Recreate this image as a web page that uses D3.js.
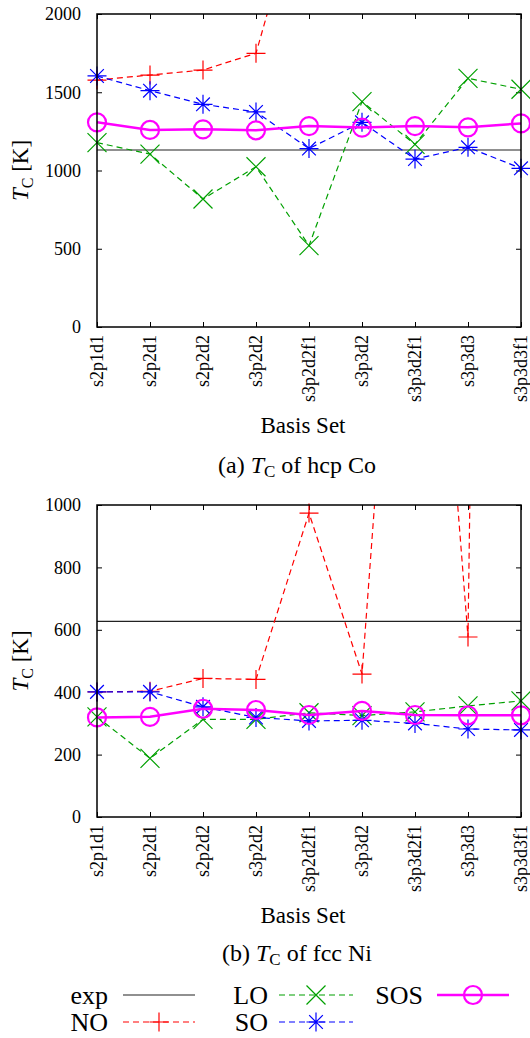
<!DOCTYPE html>
<html>
<head>
<meta charset="utf-8">
<script src="https://cdn.jsdelivr.net/npm/d3@7"></script>
<style>
  body { margin: 0; background: #fff; }
  svg text { font-family: "Liberation Serif", "DejaVu Serif", serif !important; fill: #000; }
</style>
</head>
<body>
<script>
  const basisSets = ["s2p1d1", "s2p2d1", "s2p2d2", "s3p2d2", "s3p2d2f1", "s3p3d2", "s3p3d2f1", "s3p3d3", "s3p3d3f1"]

  // hcp Co (null = far above the plotted range)
  const coExp = 1131
  const coNO = [1578, 1610, 1642, 1749, 2940, null, null, null, null]
  const coLO = [1178, 1105, 818, 1024, 520, 1440, 1167, 1589, 1519]
  const coSO = [1604, 1510, 1423, 1374, 1140, 1308, 1073, 1148, 1014]
  const coSOS = [1308, 1259, 1263, 1257, 1284, 1274, 1284, 1276, 1301]
  const coTicks = [0, 500, 1000, 1500, 2000]

  // fcc Ni
  const niExp = 627
  const niNO = [401, 403, 444, 441, 974, 458, 2750, 577, 13000]
  const niLO = [321, 188, 313, 313, 334, 325, 337, 356, 372]
  const niSO = [401, 401, 353, 319, 308, 310, 300, 282, 279]
  const niSOS = [319, 321, 347, 343, 327, 340, 327, 326, 326]
  const niTicks = [0, 200, 400, 600, 800, 1000]

  const width = 530
  const height = 1038
  const left = 97, right = 521
  const serif = "Liberation Serif"

  const svg = d3.select("body").append("svg")
    .attr("width", width)
    .attr("height", height)
    .attr("font-family", serif)

  const style = {
    NO:  { color: "#ff0000", dash: "6,4", width: 1.2, marker: "plus" },
    LO:  { color: "#00a000", dash: "6,4", width: 1.2, marker: "cross" },
    SO:  { color: "#0000ff", dash: "6,4", width: 1.2, marker: "star" },
    SOS: { color: "#ff00ff", dash: null, width: 2.5, marker: "circle" }
  }

  function marker(g, type, color) {
    const s = 9.5
    const path = d3.path()
    if (type == "plus" || type == "star") {
      path.moveTo(-s, 0); path.lineTo(s, 0)
      path.moveTo(0, -s); path.lineTo(0, s)
    }
    if (type == "cross" || type == "star") {
      const t = type == "star" ? s * 0.72 : s
      path.moveTo(-t, -t); path.lineTo(t, t)
      path.moveTo(-t, t); path.lineTo(t, -t)
    }
    if (type == "circle") {
      g.append("circle").attr("r", 9).attr("fill", "none")
        .attr("stroke", color).attr("stroke-width", 2.2)
      return
    }
    g.append("path").attr("d", path.toString())
      .attr("fill", "none").attr("stroke", color).attr("stroke-width", 1.2)
  }

  function drawChart(id, top, bottom, ymax, ticks, exp, series, labelY, captionY, caption) {
    const x = d3.scalePoint().domain(basisSets).range([left, right])
    const y = d3.scaleLinear().domain([0, ymax]).range([bottom, top])

    const g = svg.append("g")

    svg.append("clipPath").attr("id", id)
      .append("rect")
      .attr("x", left).attr("y", top)
      .attr("width", right - left).attr("height", bottom - top)

    // axes with inward ticks on all four sides
    const yAxis = g.append("g")
      .attr("transform", `translate(${left},0)`)
      .call(d3.axisLeft(y).tickValues(ticks).tickFormat(d3.format("d"))
        .tickSizeInner(-5).tickSizeOuter(0).tickPadding(16))
    yAxis.selectAll("text").attr("font-size", "18px").attr("dy", "0.33em")

    g.append("g")
      .attr("transform", `translate(${right},0)`)
      .call(d3.axisRight(y).tickValues(ticks).tickSizeInner(-5).tickSizeOuter(0).tickFormat(""))

    g.append("g")
      .attr("transform", `translate(0,${top})`)
      .call(d3.axisTop(x).tickSizeInner(-5).tickSizeOuter(0).tickFormat(""))

    const xAxis = g.append("g")
      .attr("transform", `translate(0,${bottom})`)
      .call(d3.axisBottom(x).tickSizeInner(-5).tickSizeOuter(0))
    xAxis.selectAll("text")
      .attr("font-size", "18px")
      .attr("transform", "rotate(-90)")
      .attr("text-anchor", "end")
      .attr("x", -8)
      .attr("y", 5)
      .attr("dy", 0)

    g.selectAll(".domain").remove()
    g.selectAll("g").attr("font-family", serif)
    g.selectAll(".tick line").attr("stroke", "#000").attr("stroke-width", 1)

    // experimental value
    g.append("line")
      .attr("x1", left).attr("x2", right)
      .attr("y1", y(exp)).attr("y2", y(exp))
      .attr("stroke", "#222").attr("stroke-width", 1.2)

    const line = d3.line()
      .defined(d => d != null)
      .x((d, i) => x(basisSets[i]))
      .y(d => y(d))

    for (const [name, values] of series) {
      const st = style[name]
      g.append("path")
        .datum(values)
        .attr("clip-path", `url(#${id})`)
        .attr("d", line)
        .attr("fill", "none")
        .attr("stroke", st.color)
        .attr("stroke-width", st.width)
        .attr("stroke-dasharray", st.dash)

      values.forEach((v, i) => {
        if (v == null || v > ymax) return
        const m = g.append("g").attr("transform", `translate(${x(basisSets[i])},${y(v)})`)
        marker(m, st.marker, st.color)
      })
    }

    // frame
    g.append("rect")
      .attr("x", left).attr("y", top)
      .attr("width", right - left).attr("height", bottom - top)
      .attr("fill", "none").attr("stroke", "#000").attr("stroke-width", 1.5)

    // y label
    const yl = g.append("text")
      .attr("transform", `translate(28,${(top + bottom) / 2}) rotate(-90)`)
      .attr("text-anchor", "middle")
      .attr("font-family", serif)
      .attr("font-size", "23px")
    yl.append("tspan").attr("font-style", "italic").text("T")
    yl.append("tspan").attr("font-size", "16px").attr("dy", 5).text("C")
    yl.append("tspan").attr("dy", -5).text(" [K]")

    g.append("text")
      .attr("x", 303).attr("y", labelY)
      .attr("text-anchor", "middle")
      .attr("font-family", serif)
      .attr("font-size", "23px")
      .text("Basis Set")

    const cap = g.append("text")
      .attr("x", 297).attr("y", captionY)
      .attr("text-anchor", "middle")
      .attr("font-family", serif)
      .attr("font-size", "24px")
    cap.append("tspan").text(caption[0] + " ")
    cap.append("tspan").attr("font-style", "italic").text("T")
    cap.append("tspan").attr("font-size", "17px").attr("dy", 4).text("C")
    cap.append("tspan").attr("dy", -4).text(" " + caption[1])
  }

  drawChart("clipCo", 14, 327, 2000, coTicks, coExp,
    [["NO", coNO], ["LO", coLO], ["SO", coSO], ["SOS", coSOS]],
    433, 473, ["(a)", "of hcp Co"])

  drawChart("clipNi", 505, 817, 1000, niTicks, niExp,
    [["NO", niNO], ["LO", niLO], ["SO", niSO], ["SOS", niSOS]],
    923, 961, ["(b)", "of fcc Ni"])

  // legend
  const legendItems = [
    { name: "exp", tx: 108, x1: 123, x2: 195, y: 995 },
    { name: "NO", tx: 108, x1: 123, x2: 195, y: 1022 },
    { name: "LO", tx: 268, x1: 279, x2: 353, y: 995 },
    { name: "SO", tx: 268, x1: 279, x2: 353, y: 1022 },
    { name: "SOS", tx: 423, x1: 437, x2: 509, y: 995 }
  ]
  const legend = svg.append("g")
  legendItems.forEach(d => {
    legend.append("text")
      .attr("x", d.tx).attr("y", d.y + 9)
      .attr("text-anchor", "end")
      .attr("font-family", serif)
      .attr("font-size", "26px")
      .text(d.name)
    const st = style[d.name]
    legend.append("line")
      .attr("x1", d.x1).attr("x2", d.x2)
      .attr("y1", d.y).attr("y2", d.y)
      .attr("stroke", st ? st.color : "#222")
      .attr("stroke-width", st ? st.width : 1.2)
      .attr("stroke-dasharray", st ? st.dash : null)
    if (st) {
      const m = legend.append("g").attr("transform", `translate(${(d.x1 + d.x2) / 2},${d.y})`)
      marker(m, st.marker, st.color)
    }
  })
</script>
</body>
</html>
